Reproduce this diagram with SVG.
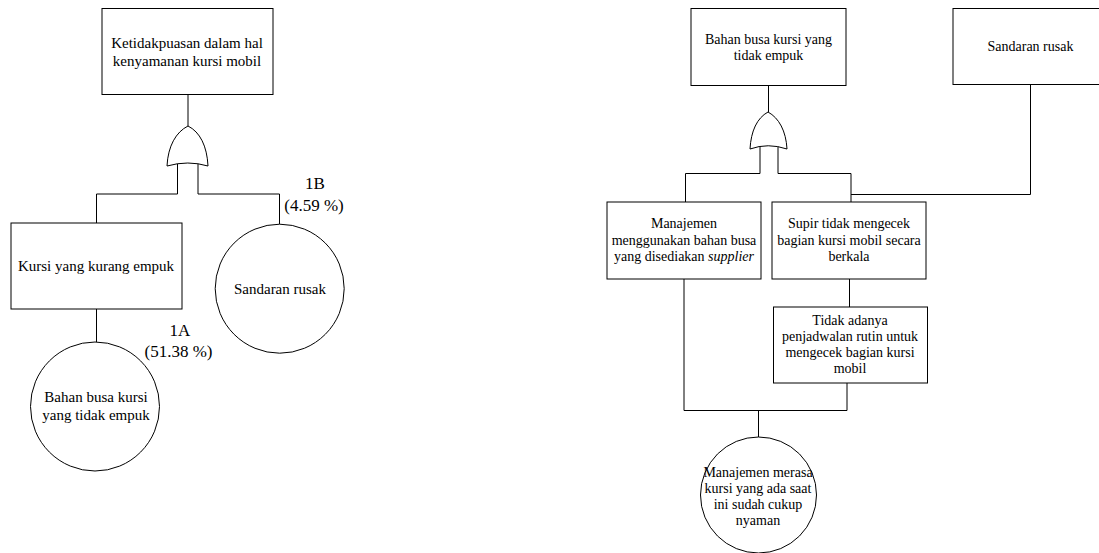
<svg xmlns="http://www.w3.org/2000/svg" width="1099" height="553" viewBox="0 0 1099 553">
<style>
.b{fill:#fff;stroke:#000;stroke-width:1}
.c{fill:none;stroke:#000;stroke-width:1}
.g{fill:#fff;stroke:#000;stroke-width:1}
text{font-family:"Liberation Serif","Times New Roman",serif;fill:#000;text-anchor:middle}
.l{font-size:15px}
.r{font-size:14px}
.p{font-size:17px}
</style>
<rect width="1099" height="553" fill="#fff"/>
<g id="connectors">
<path class="c" d="M188,94V126"/>
<path class="c" d="M177.5,160V194H96.5V223"/>
<path class="c" d="M198,160V194H279.5V224"/>
<path class="c" d="M96.5,309V342"/>
<path class="c" d="M768.5,86V112"/>
<path class="c" d="M760,143V173.5H685.5V202"/>
<path class="c" d="M778,143V173.5H851V202"/>
<path class="c" d="M851,194.5H1030.5V85"/>
<path class="c" d="M684,279V410.5H847V383"/>
<path class="c" d="M849.5,279V307"/>
<path class="c" d="M758.5,410.5V437"/>
</g>
<g id="gate1">
<path class="g" d="M188,126C176,132 168,146 167,166Q188,160 208,166C207,146 200,132 188,126Z"/>
</g>
<g id="gate2">
<path class="g" d="M768,112C757,118 751,131 750,149Q768,142.5 787,149C786,131 779,118 768,112Z"/>
</g>
<g id="n-top-left">
<rect class="b" x="102" y="8.5" width="171" height="86"/>
<text class="l" x="187" y="48">Ketidakpuasan dalam hal</text>
<text class="l" x="187" y="66">kenyamanan kursi mobil</text>
</g>
<g id="n-kursi">
<rect class="b" x="11" y="223" width="171" height="86"/>
<text class="l" x="96" y="271">Kursi yang kurang empuk</text>
</g>
<g id="n-bahan-circle">
<circle class="b" cx="95" cy="406.5" r="64.5"/>
<text class="l" x="96" y="402">Bahan busa kursi</text>
<text class="l" x="96" y="419.5">yang tidak empuk</text>
</g>
<g id="n-sandaran-circle">
<circle class="b" cx="279.7" cy="288.7" r="64.5"/>
<text class="l" x="280" y="293.5">Sandaran rusak</text>
</g>
<g id="label-1A">
<text class="p" x="180" y="336">1A</text>
<text class="p" x="178.5" y="357">(51.38 %)</text>
</g>
<g id="label-1B">
<text class="p" x="315" y="188.5">1B</text>
<text class="p" x="314" y="210.5">(4.59 %)</text>
</g>
<g id="n-bahan-box">
<rect class="b" x="691" y="8.5" width="155" height="77"/>
<text class="r" x="768.5" y="44">Bahan busa kursi yang</text>
<text class="r" x="768.5" y="60">tidak empuk</text>
</g>
<g id="n-sandaran-box">
<rect class="b" x="953" y="8.5" width="150" height="76"/>
<text class="r" x="1030.5" y="51">Sandaran rusak</text>
</g>
<g id="n-manajemen">
<rect class="b" x="607" y="202" width="154" height="77"/>
<text class="r" x="684" y="228">Manajemen</text>
<text class="r" x="684" y="244.5">menggunakan bahan busa</text>
<text class="r" x="684" y="261">yang disediakan <tspan font-style="italic">supplier</tspan></text>
</g>
<g id="n-supir">
<rect class="b" x="772" y="202" width="154" height="77"/>
<text class="r" x="849" y="228">Supir tidak mengecek</text>
<text class="r" x="849" y="244.5">bagian kursi mobil secara</text>
<text class="r" x="849" y="261">berkala</text>
</g>
<g id="n-tidak">
<rect class="b" x="773.5" y="307" width="154" height="76"/>
<text class="r" x="850" y="325">Tidak adanya</text>
<text class="r" x="850" y="341">penjadwalan rutin untuk</text>
<text class="r" x="850" y="357">mengecek bagian kursi</text>
<text class="r" x="850" y="373">mobil</text>
</g>
<g id="n-manajemen-merasa">
<circle class="b" cx="758.5" cy="495" r="58"/>
<text class="r" x="758" y="477">Manajemen merasa</text>
<text class="r" x="758" y="493">kursi yang ada saat</text>
<text class="r" x="758" y="509">ini sudah cukup</text>
<text class="r" x="758" y="525">nyaman</text>
</g>
</svg>
